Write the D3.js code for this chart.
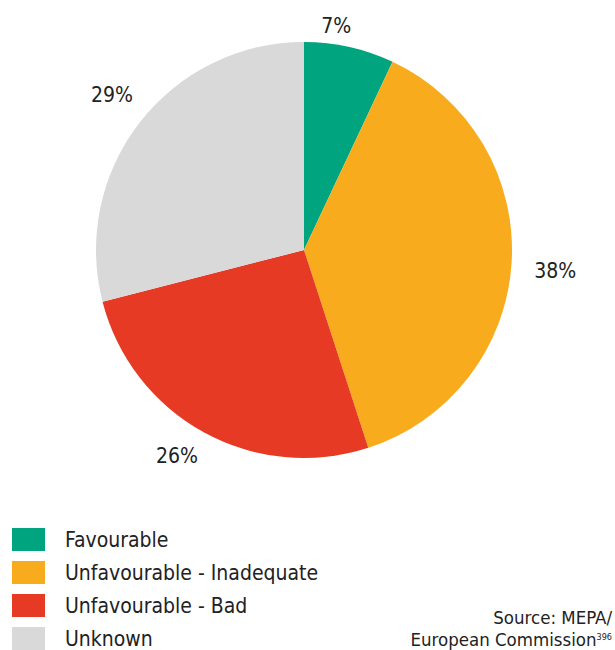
<!DOCTYPE html>
<html>
<head>
<meta charset="utf-8">
<script src="https://cdn.jsdelivr.net/npm/d3@7"></script>
<style>
  html, body { margin: 0; padding: 0; background: #fff; }
  svg { display: block; }
</style>
</head>
<body>
<svg id="chart" width="615" height="650"></svg>
<script>
const categories = ["Favourable", "Unfavourable - Inadequate", "Unfavourable - Bad", "Unknown"];
const values = [7, 38, 26, 29];
const colors = ["#00A47F", "#F9AB1E", "#E63A25", "#D9D9D9"];
const sourceLines = ["Source: MEPA/", "European Commission"];
const sourceSup = "396";

const svg = d3.select("#chart");
const cx = 304, cy = 250, r = 208;

const pie = d3.pie().sort(null).value(d => d)(values);
const arc = d3.arc().innerRadius(0).outerRadius(r);

const g = svg.append("g").attr("transform", `translate(${cx},${cy})`);
g.selectAll("path").data(pie).enter().append("path")
  .attr("d", arc)
  .attr("fill", (d, i) => colors[i]);

// label placement: radius and angle adjustments
const labelR = [227, 252, 242, 247];
const labelShift = [-0.077, 0.02, 0.05, 0.02];
g.selectAll("text.lbl").data(pie).enter().append("text")
  .attr("class", "lbl")
  .attr("x", (d, i) => {
    const a = (d.startAngle + d.endAngle) / 2 + labelShift[i];
    return Math.sin(a) * labelR[i];
  })
  .attr("y", (d, i) => {
    const a = (d.startAngle + d.endAngle) / 2 + labelShift[i];
    return -Math.cos(a) * labelR[i];
  })
  .attr("dy", "0.35em")
  .attr("text-anchor", "middle")
  .attr("font-family", "'DejaVu Sans Condensed', Roboto, sans-serif")
  .attr("font-size", 21)
  .attr("fill", "#222")
  .text(d => d.value + "%");

// legend
const legend = svg.append("g").attr("transform", "translate(12,528)");
const item = legend.selectAll("g").data(categories).enter().append("g")
  .attr("transform", (d, i) => `translate(0,${i * 33})`);
item.append("rect").attr("width", 33).attr("height", 23).attr("fill", (d, i) => colors[i]);
item.append("text")
  .attr("x", 53).attr("y", 12).attr("dy", "0.35em")
  .attr("font-family", "'DejaVu Sans Condensed', 'Liberation Sans Narrow', sans-serif")
  .attr("font-size", 21)
  .attr("fill", "#222")
  .text(d => d);

// source
const src = svg.append("g")
  .attr("font-family", "'DejaVu Sans Condensed', 'Liberation Sans Narrow', sans-serif")
  .attr("font-size", 18.5).attr("fill", "#222").attr("text-anchor", "end");
src.append("text").attr("x", 612).attr("y", 624).text(sourceLines[0]);
const t2 = src.append("text").attr("x", 612).attr("y", 646);
t2.append("tspan").text(sourceLines[1]);
t2.append("tspan").attr("font-size", 9).attr("dy", -6).text(sourceSup);
</script>
</body>
</html>
